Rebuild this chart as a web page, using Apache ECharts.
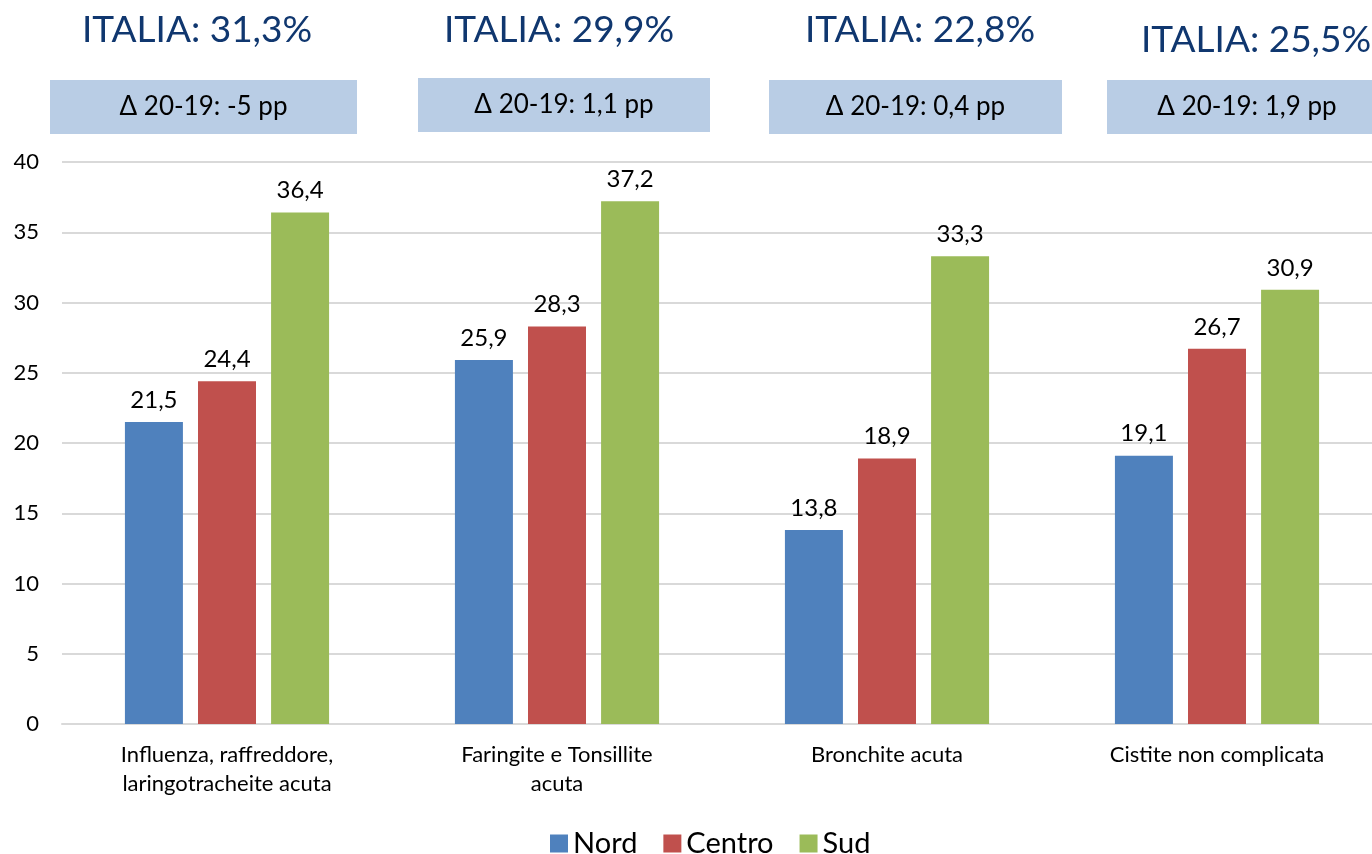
<!DOCTYPE html>
<html lang="it">
<head>
    <meta charset="UTF-8">
    <title>Regioni</title>
    <script src="https://cdn.jsdelivr.net/npm/echarts@6/dist/echarts.min.js"></script>
    <style>
        html, body { margin: 0; padding: 0; background: #fff; overflow: hidden; }
        /* la slide originale e' tagliata a destra: il grafico sborda di qualche pixel */
        #chart { width: 1382px; height: 854px; }
    </style>
</head>
<body>
<div id="chart"></div>
<script type="text/javascript">
    var categories = ['Influenza, raffreddore,\nlaringotracheite acuta', 'Faringite e Tonsillite\nacuta', 'Bronchite acuta', 'Cistite non complicata'];
    var nord = [21.5, 25.9, 13.8, 19.1];
    var centro = [24.4, 28.3, 18.9, 26.7];
    var sud = [36.4, 37.2, 33.3, 30.9];
    var italia = ['ITALIA: 31,3%', 'ITALIA: 29,9%', 'ITALIA: 22,8%', 'ITALIA: 25,5%'];
    var delta = ['\u0394 20-19: -5 pp', '\u0394 20-19: 1,1 pp', '\u0394 20-19: 0,4 pp', '\u0394 20-19: 1,9 pp'];

    var font = 'Lato, "Noto Sans", sans-serif';
    // posizione dei riquadri in alto (come nella slide)
    var boxes = [
        { x: 50, y: 80, w: 307, h: 54, tx: 197, ty: 30 },
        { x: 418, y: 78, w: 292, h: 54, tx: 559, ty: 30 },
        { x: 769, y: 80, w: 293, h: 54, tx: 920, ty: 30 },
        { x: 1107, y: 80, w: 280, h: 54, tx: 1256, ty: 40 }
    ];

    var chart = echarts.init(document.getElementById('chart'));

    function fmt(p) { return String(p.value).replace('.', ','); }
    function serie(name, data, color) {
        return {
            name: name,
            type: 'bar',
            data: data,
            barWidth: 58,
            barGap: '26%',
            itemStyle: { color: color },
            label: { show: true, position: 'top', distance: 10, fontSize: 24, color: '#000', fontFamily: font, formatter: fmt }
        };
    }

    var graphic = [];
    boxes.forEach(function (b, i) {
        graphic.push({
            type: 'rect', left: b.x, top: b.y,
            shape: { width: b.w, height: b.h },
            style: { fill: '#b9cde5' }
        });
        graphic.push({
            type: 'text', x: b.x + b.w / 2, y: b.y + b.h / 2,
            style: { text: delta[i], fontSize: 26, fill: '#000', fontFamily: font, align: 'center', verticalAlign: 'middle' }
        });
        graphic.push({
            type: 'text', x: b.tx, y: b.ty,
            style: { text: italia[i], fontSize: 37, fill: '#10376f', fontFamily: font, align: 'center', verticalAlign: 'middle' }
        });
    });

    chart.setOption({
        animation: false,
        color: ['#4f81bd', '#c0504d', '#9bbb59'],
        legend: {
            top: 824,
            left: 545,
            itemWidth: 18,
            itemHeight: 18,
            itemGap: 26,
            icon: 'rect',
            textStyle: { fontSize: 29, color: '#000', fontFamily: font },
            data: ['Nord', 'Centro', 'Sud']
        },
        grid: { left: 62, top: 162, right: 0, bottom: 130, containLabel: false },
        xAxis: {
            type: 'category',
            data: categories,
            axisLine: { lineStyle: { color: '#d9d9d9', width: 2 } },
            axisTick: { show: false },
            axisLabel: { fontSize: 22, color: '#000', fontFamily: font, lineHeight: 29, margin: 16 }
        },
        yAxis: {
            type: 'value',
            min: 0, max: 40, interval: 5,
            axisLine: { show: false },
            axisTick: { show: false },
            splitLine: { lineStyle: { color: '#d9d9d9', width: 2 } },
            axisLabel: { fontSize: 22, color: '#000', fontFamily: font, margin: 23 }
        },
        graphic: graphic,
        series: [
            serie('Nord', nord, '#4f81bd'),
            serie('Centro', centro, '#c0504d'),
            serie('Sud', sud, '#9bbb59')
        ]
    });
</script>
</body>
</html>
